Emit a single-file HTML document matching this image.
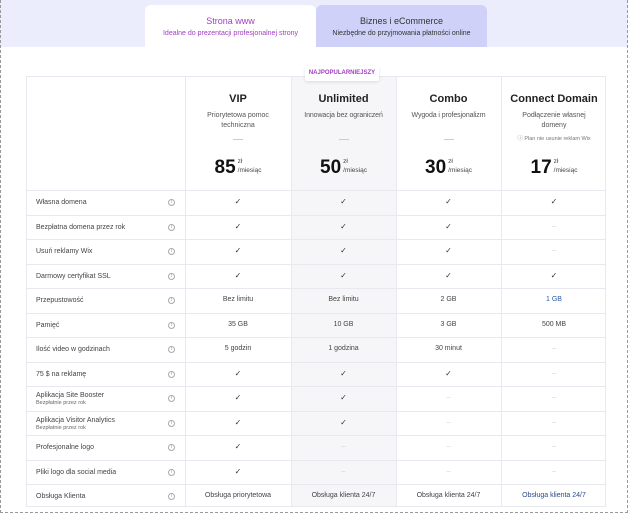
<!DOCTYPE html>
<html><head><meta charset="utf-8"><style>
*{box-sizing:border-box;margin:0;padding:0}
body{width:628px;height:517px;overflow:hidden;background:#fff;font-family:"Liberation Sans",sans-serif;color:#333;position:relative}
.frame{position:absolute;left:0;top:0;width:628px;height:513px;border:1px dashed #999;border-top:none}
.band{position:absolute;left:0;top:0;width:628px;height:47px;background:#ecedfc}
.tab{position:absolute;top:5px;height:42px;text-align:center;border-radius:6px 6px 0 0}
.tab .t{font-size:9px;margin-top:11px}
.tab .s{font-size:7px;margin-top:4px}
.tbl{position:absolute;left:26px;top:76px;width:580px;height:431px;border:1px solid #e8e9ee}
.col-hl{position:absolute;left:264px;top:0;width:105px;height:100%;background:#f6f6f8}
.vl{position:absolute;top:0;width:1px;height:100%;background:#e8e9ee}
.hl{position:absolute;left:0;width:100%;height:1px;background:#e8e9ee}
.cell{position:absolute;text-align:center;font-size:7px;color:#444;line-height:10px}
.lab{position:absolute;left:9px;font-size:7px;color:#444;line-height:9px}
.info{position:absolute;left:141px;width:7px;height:7px;border:1px solid #aaa;border-radius:50%;font-size:5px;line-height:5px;text-align:center;color:#999}
.ph{position:absolute;top:0;text-align:center}
.ph .n{font-size:11px;font-weight:bold;color:#222;margin-top:16px}
.ph .d{font-size:7px;color:#555;margin-top:6px;line-height:10px;white-space:normal}
.ph .dash{width:10px;height:1px;background:#ccc;margin:8px auto 0}
.price{position:absolute;top:80px;width:100%;text-align:center}
.price b{font-size:19px;color:#111}
.price span{display:inline-block;font-size:6.5px;color:#444;text-align:left;vertical-align:top;line-height:9px;margin-left:2px}
.badge{position:absolute;left:305px;top:66px;width:74px;height:15px;background:#fff;box-shadow:0 1px 3px rgba(0,0,0,.12);color:#a23fc4;font-size:6px;font-weight:bold;text-align:center;line-height:15px;border-radius:2px}
.chk{color:#333;font-size:8px}
.no{color:#ccc}
</style></head><body>
<div class="band"></div>
<div class="tab" style="left:145px;width:171px;background:#fff"><div class="t" style="color:#a23fc4">Strona www</div><div class="s" style="color:#a23fc4">Idealne do prezentacji profesjonalnej strony</div></div>
<div class="tab" style="left:316px;width:171px;background:#cfd1f8"><div class="t" style="color:#333">Biznes i eCommerce</div><div class="s" style="color:#333">Niezbędne do przyjmowania płatności online</div></div>
<div class="frame"></div>
<div class="tbl" id="tbl">
<div class="col-hl"></div>
</div>
<div class="badge">NAJPOPULARNIEJSZY</div>
<script>
const plans=["VIP","Unlimited","Combo","Connect Domain"];
const descs=["Priorytetowa pomoc techniczna","Innowacja bez ograniczeń","Wygoda i profesjonalizm","Podłączenie własnej domeny"];
const prices=["85","50","30","17"];
const features=["Własna domena","Bezpłatna domena przez rok","Usuń reklamy Wix","Darmowy certyfikat SSL","Przepustowość","Pamięć","Ilość video w godzinach","75 $ na reklamę","Aplikacja Site Booster","Aplikacja Visitor Analytics","Profesjonalne logo","Pliki logo dla social media","Obsługa Klienta"];
const subs=["","","","","","","","","Bezpłatnie przez rok","Bezpłatnie przez rok","","",""];
const vals=[
["✓","✓","✓","✓"],["✓","✓","✓","–"],["✓","✓","✓","–"],["✓","✓","✓","✓"],
["Bez limitu","Bez limitu","2 GB","1 GB"],["35 GB","10 GB","3 GB","500 MB"],
["5 godzin","1 godzina","30 minut","–"],["✓","✓","✓","–"],["✓","✓","–","–"],["✓","✓","–","–"],
["✓","–","–","–"],["✓","–","–","–"],["Obsługa priorytetowa","Obsługa klienta 24/7","Obsługa klienta 24/7","Obsługa klienta 24/7"]];
const t=document.getElementById('tbl');
const colX=[158,264,369,474,580];
const hdrH=113,rowH=24.5;
const pads=[14,2,4,14];
for(let i=0;i<4;i++){
 const v=document.createElement('div');v.className='vl';v.style.left=colX[i]+'px';
 
 
 t.appendChild(v);
 const h=document.createElement('div');h.className='ph';h.style.left=colX[i]+'px';h.style.width=(colX[i+1]-colX[i])+'px';h.style.height=hdrH+'px';
 
 
 let inner='<div class="n">'+plans[i]+'</div><div class="d" style="padding:0 '+pads[i]+'px;'+(i==1||i==2?'white-space:nowrap;letter-spacing:-0.1px':'')+'">'+descs[i]+'</div>';
 if(i===0) inner+='<div class="dash"></div>';
 else if(i<3) inner+='<div class="dash" style="margin-top:18px"></div>';
 else inner+='<div style="font-size:5.5px;color:#777;margin-top:3px">ⓘ Plan nie usunie reklam Wix</div>';
 inner+='<div class="price"><b>'+prices[i]+'</b><span>zł<br>/miesiąc</span></div>';
 h.innerHTML=inner;t.appendChild(h);
}
for(let r=0;r<features.length;r++){
 const y=hdrH+r*rowH;
 const hl=document.createElement('div');hl.className='hl';hl.style.top=y+'px';
 
 
 t.appendChild(hl);
 const l=document.createElement('div');l.className='lab';
 
 
 if(subs[r]){l.style.top=(y+5)+'px';l.innerHTML=features[r]+'<div style="font-size:5.5px;color:#666;line-height:6px">'+subs[r]+'</div>';}
 else{l.style.top=(y+8)+'px';l.textContent=features[r];}
 t.appendChild(l);
 const ic=document.createElement('div');ic.className='info';ic.style.top=(y+9)+'px';ic.textContent='i';
 
 
 t.appendChild(ic);
 for(let c=0;c<4;c++){
  const d=document.createElement('div');d.className='cell';
  
  
  d.style.left=colX[c]+'px';d.style.width=(colX[c+1]-colX[c])+'px';d.style.top=(y+7)+'px';
  const v=vals[r][c];d.textContent=v;
  if(v==='✓')d.classList.add('chk');if(v==='–')d.classList.add('no');
  if(c===3&&v==='1 GB')d.style.color='#2a5aa8';
  if(c===3&&r===12)d.style.color='#2a4a88';
  t.appendChild(d);
 }
}
</script>
</body></html>
